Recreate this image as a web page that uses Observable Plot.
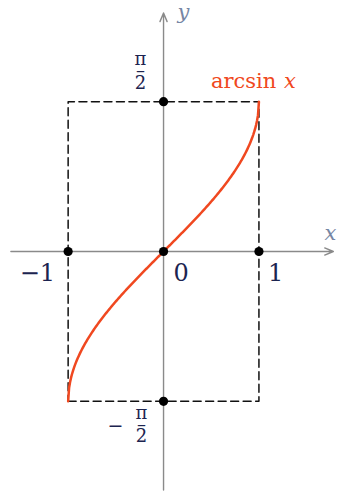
<!DOCTYPE html>
<html>
<head>
<meta charset="utf-8">
<script src="https://cdn.jsdelivr.net/npm/d3@7"></script>
<script src="https://cdn.jsdelivr.net/npm/@observablehq/plot@0.6"></script>
<style>
  html, body { margin: 0; padding: 0; background: #fff; }
  svg { display: block; }
</style>
</head>
<body>
<div id="chart"></div>
<script>
// arcsin x on its domain [-1, 1], range [-π/2, π/2]
const HALF_PI = Math.PI / 2;
const xSamples = d3.range(-1, 1.0001, 0.01).map(v => Math.max(-1, Math.min(1, v)));
const curve = xSamples.map(x => ({x, y: Math.asin(x)}));

// marked points: ends of the domain, origin, ends of the range
const xPoints = [-1, 0, 1];
const yPoints = [HALF_PI, -HALF_PI];
const boxCorners = [
  {x: -1, y: -HALF_PI}, {x: 1, y: -HALF_PI}, {x: 1, y: HALF_PI},
  {x: -1, y: HALF_PI}, {x: -1, y: -HALF_PI}
];

const axisColor = "#8a8a8a";
const curveColor = "#f04820";
const labelColor = "#1c2450";
const nameColor = "#7686a4";
const serif = "'DejaVu Serif', 'Liberation Serif', serif";

const xDomain = [-1.709, 1.834];
const yDomain = [-2.537, 2.631];

// π over 2, stacked with a bar between
const fraction = "\u03c0\n\u2013\n2";
const frac = {fontSize: 18, fill: labelColor, lineHeight: 0.66};

const plot = Plot.plot({
  width: 338,
  height: 493,
  margin: 0,
  x: {domain: xDomain, axis: null},
  y: {domain: yDomain, axis: null},
  style: {fontFamily: serif, background: "#fff"},
  marks: [
    // coordinate axes with arrowheads
    Plot.arrow([{x1: -1.60, x2: 1.78, y: 0}], {
      x1: "x1", x2: "x2", y1: "y", y2: "y",
      stroke: axisColor, strokeWidth: 1.4, headLength: 10, headAngle: 45, bend: 0
    }),
    Plot.arrow([{y1: -2.50, y2: 2.50, x: 0}], {
      y1: "y1", y2: "y2", x1: "x", x2: "x",
      stroke: axisColor, strokeWidth: 1.4, headLength: 10, headAngle: 45, bend: 0
    }),
    // dashed bounding box
    Plot.line(boxCorners, {
      x: "x", y: "y", stroke: "#111", strokeWidth: 1.5, strokeDasharray: "8,4.5"
    }),
    // the curve
    Plot.line(curve, {x: "x", y: "y", stroke: curveColor, strokeWidth: 2.5}),
    // marked points
    Plot.dot(xPoints, {x: d => d, y: 0, r: 4.6, fill: "#000"}),
    Plot.dot(yPoints, {x: 0, y: d => d, r: 4.6, fill: "#000"}),
    // tick labels on x
    Plot.text([-1], {x: d => d, y: 0, text: () => "\u22121", dx: -13, dy: 22, textAnchor: "end", fontSize: 24, fill: labelColor}),
    Plot.text([0], {x: d => d, y: 0, text: () => "0", dx: 10, dy: 22, textAnchor: "start", fontSize: 24, fill: labelColor}),
    Plot.text([1], {x: d => d, y: 0, text: () => "1", dx: 9, dy: 22, textAnchor: "start", fontSize: 24, fill: labelColor}),
    // π/2 and −π/2 on the y axis
    Plot.text([HALF_PI], {x: 0, y: d => d, text: () => fraction, dx: -23, dy: -28.4, ...frac}),
    Plot.text([-HALF_PI], {x: 0, y: d => d, text: () => "\u2212", dx: -48, dy: 24.5, fontSize: 19, fill: labelColor}),
    Plot.text([-HALF_PI], {x: 0, y: d => d, text: () => fraction, dx: -22, dy: 25.4, ...frac}),
    // axis names
    Plot.text(["x"], {x: 1.78, y: 0, text: d => d, dx: -3, dy: -18, fontSize: 21, fontStyle: "italic", fill: nameColor}),
    Plot.text(["y"], {x: 0, y: 2.5, text: d => d, dx: 20, dy: -1, fontSize: 21, fontStyle: "italic", fill: nameColor}),
    // curve label
    Plot.text(["arcsin"], {x: 1, y: HALF_PI, text: d => d, dx: -48, dy: -20, textAnchor: "start", fontSize: 21, fill: curveColor}),
    Plot.text(["x"], {x: 1, y: HALF_PI, text: d => d, dx: 25, dy: -20, textAnchor: "start", fontSize: 21, fontStyle: "italic", fill: curveColor})
  ]
});

document.getElementById("chart").append(plot);
</script>
</body>
</html>
